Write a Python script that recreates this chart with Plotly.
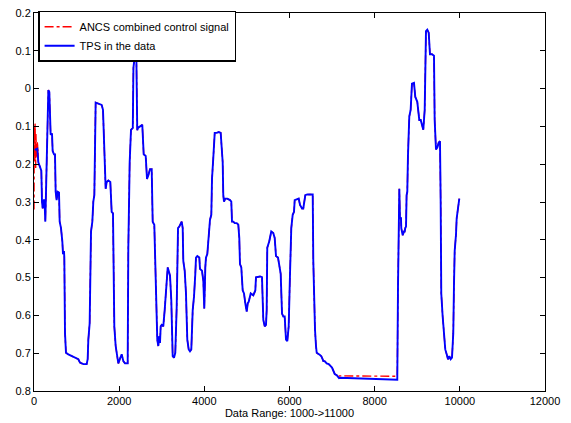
import plotly.graph_objects as go

# ---- TPS in the data (blue) ----
tps_x = [16, 78, 102, 141, 172, 188, 204, 235, 251, 266, 282, 298, 321, 337, 360, 376, 391, 423, 438, 470, 493,
         509, 532, 556, 587, 603, 634, 665, 681, 704, 712, 728, 751, 806, 885, 963, 1041, 1080, 1158, 1237, 1260,
         1276, 1307, 1339, 1370, 1393, 1417, 1448, 1511, 1589, 1620, 1667, 1683, 1707, 1746, 1792, 1824, 1855,
         1886, 1918, 1949, 1980, 2027, 2059, 2098, 2137, 2200, 2215, 2247, 2278, 2320, 2335, 2355, 2380, 2405,
         2425, 2440, 2543, 2576, 2623, 2654, 2684, 2724, 2764, 2787, 2825, 2848, 2865, 2895, 2919, 2942, 2959,
         2975, 2999, 3036, 3069, 3100, 3116, 3140, 3163, 3194, 3224, 3241, 3257, 3288, 3318, 3351, 3382, 3412,
         3445, 3468, 3492, 3506, 3539, 3569, 3600, 3633, 3663, 3694, 3727, 3757, 3788, 3804, 3835, 3882, 3898,
         3945, 3976, 3999, 4023, 4039, 4070, 4102, 4133, 4164, 4180, 4211, 4244, 4291, 4337, 4384, 4408, 4431,
         4445, 4462, 4492, 4539, 4603, 4633, 4650, 4680, 4713, 4760, 4798, 4821, 4837, 4868, 4901, 4932, 4962,
         4995, 5019, 5042, 5089, 5150, 5197, 5213, 5307, 5354, 5385, 5418, 5448, 5464, 5478, 5525, 5572, 5619,
         5652, 5683, 5730, 5760, 5793, 5824, 5855, 5887, 5918, 5948, 5981, 6012, 6042, 6075, 6106, 6122, 6169,
         6216, 6247, 6294, 6324, 6357, 6371, 6418, 6545, 6559, 6582, 6599, 6622, 6639, 6716, 6747, 6779, 6794,
         6826, 6873, 6920, 6951, 6967, 6998, 7029, 7062, 7109, 7147, 7163, 7186, 7421, 7813, 8125, 8531, 8548,
         8579, 8595, 8618, 8625, 8658, 8689, 8705, 8719, 8736, 8750, 8766, 8782, 8797, 8813, 8845, 8876, 8923,
         8954, 9001, 9048, 9081, 9111, 9142, 9175, 9205, 9236, 9269, 9299, 9346, 9393, 9409, 9440, 9471, 9503,
         9534, 9550, 9564, 9597, 9628, 9658, 9691, 9722, 9753, 9785, 9816, 9846, 9863, 9879, 9910, 9926, 9957,
         9988]
tps_y = [-0.162, -0.159, -0.195, -0.208, -0.217, -0.299, -0.317, -0.293, -0.308, -0.352, -0.265, -0.143, -0.013,
         -0.004, -0.009, -0.065, -0.122, -0.119, -0.165, -0.174, -0.174,
         -0.273, -0.295, -0.273, -0.275, -0.352, -0.369, -0.404, -0.438, -0.430, -0.447, -0.647, -0.699, -0.703,
         -0.708, -0.712, -0.716, -0.725, -0.729, -0.729, -0.716,
         -0.664, -0.621, -0.378, -0.352, -0.299, -0.282, -0.037, -0.039, -0.043, -0.056, -0.239, -0.265, -0.247,
         -0.243, -0.247, -0.326, -0.330,
         -0.629, -0.681, -0.703, -0.727, -0.712, -0.703, -0.721, -0.727, -0.727, -0.421, -0.195, -0.109, -0.104,
         0.055, 0.075, 0.080, 0.072,
         -0.110, -0.104, -0.096, -0.174, -0.178, -0.239, -0.230, -0.213, -0.213, -0.352, -0.360, -0.456, -0.595,
         -0.664, -0.681, -0.655, -0.673,
         -0.629, -0.625, -0.629, -0.586, -0.525, -0.508, -0.473, -0.482, -0.495, -0.560, -0.655, -0.708, -0.712,
         -0.699, -0.577, -0.369, -0.365,
         -0.356, -0.352, -0.369, -0.456, -0.482, -0.542, -0.664, -0.690, -0.695, -0.690, -0.586, -0.551, -0.490,
         -0.447, -0.443, -0.447, -0.477,
         -0.482, -0.508, -0.582, -0.473, -0.447, -0.438, -0.378, -0.347, -0.334, -0.239, -0.182, -0.117, -0.117,
         -0.115, -0.117, -0.161, -0.195,
         -0.282, -0.299, -0.291, -0.291, -0.295, -0.299, -0.352, -0.352, -0.356, -0.356, -0.360, -0.395, -0.464,
         -0.473, -0.534, -0.542, -0.568,
         -0.590, -0.568, -0.564, -0.542, -0.547, -0.534, -0.499, -0.497, -0.499, -0.612, -0.629, -0.625, -0.586,
         -0.421, -0.404, -0.378, -0.382,
         -0.395, -0.443, -0.447, -0.473, -0.490, -0.595, -0.603, -0.603, -0.664, -0.668, -0.629, -0.490, -0.369,
         -0.334, -0.326, -0.295, -0.292,
         -0.291, -0.308, -0.317, -0.317, -0.287, -0.282, -0.280, -0.280, -0.456, -0.629, -0.638, -0.681, -0.699,
         -0.705, -0.708, -0.716, -0.721,
         -0.721, -0.727, -0.729, -0.734, -0.734, -0.738, -0.745, -0.755, -0.758, -0.764, -0.766, -0.765, -0.766,
         -0.768, -0.770, -0.770, -0.525,
         -0.265, -0.343, -0.343, -0.369, -0.388, -0.378, -0.378, -0.369, -0.365, -0.282, -0.273, -0.178, -0.126,
         -0.074, -0.056, 0.013, 0.015,
         -0.022, -0.035, -0.083, -0.083, -0.100, -0.109, -0.056, 0.152, 0.156, 0.148, 0.091, 0.091, 0.087,
         -0.083, -0.161, -0.156, -0.143,
         -0.139, -0.299, -0.542, -0.603, -0.647, -0.690, -0.703, -0.716, -0.708, -0.716, -0.712, -0.647, -0.516,
         -0.430, -0.386, -0.343, -0.317,
         -0.291]

# ---- ANCS combined control signal (red) ----
ancs_start_x = [0, 5, 10, 15, 20, 25, 30, 35, 40, 45, 50, 55, 60, 65, 70, 75, 80, 85, 90, 95]
ancs_start_y = [-0.32, -0.10, -0.25, -0.13, -0.19, -0.09, -0.17, -0.14, -0.21, -0.12,
                -0.16, -0.13, -0.18, -0.15, -0.17, -0.14, -0.16, -0.15, -0.17, -0.16]
ancs_flat_x = [7170, 7400, 7800, 8100, 8531]
ancs_flat_y = [-0.760, -0.760, -0.761, -0.761, -0.761]

# red follows the TPS samples except at the start and on the long flat stretch
i_start = tps_x.index(102)
i_flat0 = tps_x.index(7163)
i_flat1 = tps_x.index(8548)
ancs_x = ancs_start_x + tps_x[i_start:i_flat0] + ancs_flat_x + tps_x[i_flat1:]
ancs_y = ancs_start_y + tps_y[i_start:i_flat0] + ancs_flat_y + tps_y[i_flat1:]

y_tickvals = [-0.8, -0.7, -0.6, -0.5, -0.4, -0.3, -0.2, -0.1, 0, 0.1, 0.2]
y_ticktext = ["0.8", "0.7", "0.6", "0.5", "0.4", "0.3", "0.2", "0.1", "0", "0.1", "0.2"]
x_tickvals = [0, 2000, 4000, 6000, 8000, 10000, 12000]

fig = go.Figure()
fig.add_trace(go.Scatter(x=ancs_x, y=ancs_y, mode="lines", name="ANCS combined control signal",
                         line=dict(color="#ff0000", width=1.4, dash="dashdot")))
fig.add_trace(go.Scatter(x=tps_x, y=tps_y, mode="lines", name="TPS in the data",
                         line=dict(color="#0000ff", width=1.9)))

axis_common = dict(showline=True, linecolor="black", linewidth=1, mirror="ticks", ticks="inside",
                   ticklen=5, tickcolor="black", showgrid=False, zeroline=False,
                   tickfont=dict(family="Liberation Sans, Arial, sans-serif", size=11, color="black"))

fig.update_layout(
    width=571, height=423,
    margin=dict(l=34, r=26, t=7, b=32),
    paper_bgcolor="white", plot_bgcolor="white",
    font=dict(family="Liberation Sans, Arial, sans-serif", size=11, color="black"),
    showlegend=True,
    legend=dict(x=0.008, y=1.006, xanchor="left", yanchor="top", bgcolor="white",
                bordercolor="black", borderwidth=1.5, font=dict(size=11),
                tracegroupgap=0, itemwidth=30),
    xaxis=dict(range=[0, 12000], tickvals=x_tickvals, ticktext=[str(v) for v in x_tickvals],
               title=dict(text="Data Range: 1000->11000", standoff=0,
                          font=dict(size=11)), **axis_common),
    yaxis=dict(range=[-0.8, 0.2], tickvals=y_tickvals, ticktext=y_ticktext, **axis_common),
)

fig.write_html("out.html")
